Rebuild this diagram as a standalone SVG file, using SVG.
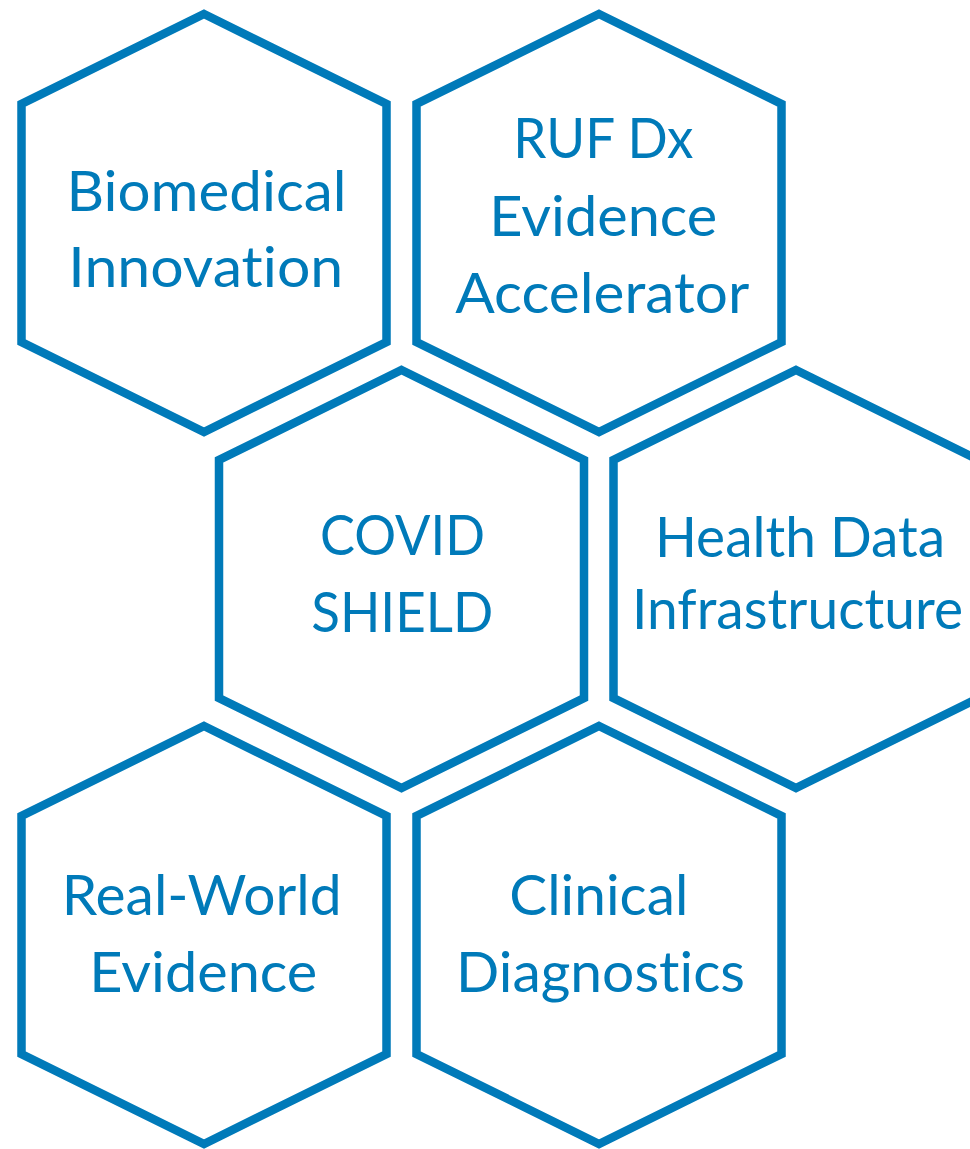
<svg xmlns="http://www.w3.org/2000/svg" xmlns:xlink="http://www.w3.org/1999/xlink" width="970" height="1149" viewBox="0 0 970 1149">
  <style>
    .hex { fill: #ffffff; stroke: #007AB9; stroke-width: 8.5; stroke-linejoin: miter; }
    .lbl { font-family: Lato, "Open Sans", "Liberation Sans", sans-serif; font-size: 57px; fill: #007AB9; text-anchor: middle; font-variant-ligatures: none; font-feature-settings: "liga" 0, "clig" 0; }
  </style>
  <defs>
    <!-- pointy-top hexagon, centred horizontally on x=0 -->
    <polygon id="hexShape" points="0,14 182.5,104 182.5,342 0,432 -182.5,342 -182.5,104"/>
  </defs>
  <rect width="970" height="1149" fill="#ffffff"/>

  <g id="connectors"/>

  <g id="biomedical-innovation">
    <use xlink:href="#hexShape" class="hex" transform="translate(204,0)"/>
    <text class="lbl" x="206.5" y="210.7" textLength="280" lengthAdjust="spacingAndGlyphs">Biomedical</text>
    <text class="lbl" x="205.8" y="287.3" textLength="275" lengthAdjust="spacingAndGlyphs">Innovation</text>
  </g>

  <g id="ruf-dx-evidence-accelerator">
    <use xlink:href="#hexShape" class="hex" transform="translate(599,0)"/>
    <text class="lbl" x="603.3" y="158.3" textLength="180" lengthAdjust="spacingAndGlyphs">RUF Dx</text>
    <text class="lbl" x="603.3" y="236" textLength="228" lengthAdjust="spacingAndGlyphs">Evidence</text>
    <text class="lbl" x="602.2" y="313.3" textLength="294" lengthAdjust="spacingAndGlyphs">Accelerator</text>
  </g>

  <g id="covid-shield">
    <use xlink:href="#hexShape" class="hex" transform="translate(401.5,356)"/>
    <text class="lbl" x="402.5" y="555" textLength="165" lengthAdjust="spacingAndGlyphs">COVID</text>
    <text class="lbl" x="402.2" y="631.7" textLength="182" lengthAdjust="spacingAndGlyphs">SHIELD</text>
  </g>

  <g id="health-data-infrastructure">
    <use xlink:href="#hexShape" class="hex" transform="translate(796,356)"/>
    <text class="lbl" x="800" y="556.7" textLength="290" lengthAdjust="spacingAndGlyphs">Health Data</text>
    <text class="lbl" x="797.5" y="629.3" textLength="331" lengthAdjust="spacingAndGlyphs">Infrastructure</text>
  </g>

  <g id="real-world-evidence">
    <use xlink:href="#hexShape" class="hex" transform="translate(204,712)"/>
    <text class="lbl" x="201.7" y="915" textLength="280" lengthAdjust="spacingAndGlyphs">Real-World</text>
    <text class="lbl" x="203.3" y="991.7" textLength="228" lengthAdjust="spacingAndGlyphs">Evidence</text>
  </g>

  <g id="clinical-diagnostics">
    <use xlink:href="#hexShape" class="hex" transform="translate(599,712)"/>
    <text class="lbl" x="598.8" y="915" textLength="179" lengthAdjust="spacingAndGlyphs">Clinical</text>
    <text class="lbl" x="600.5" y="991.7" textLength="289" lengthAdjust="spacingAndGlyphs">Diagnostics</text>
  </g>
</svg>
